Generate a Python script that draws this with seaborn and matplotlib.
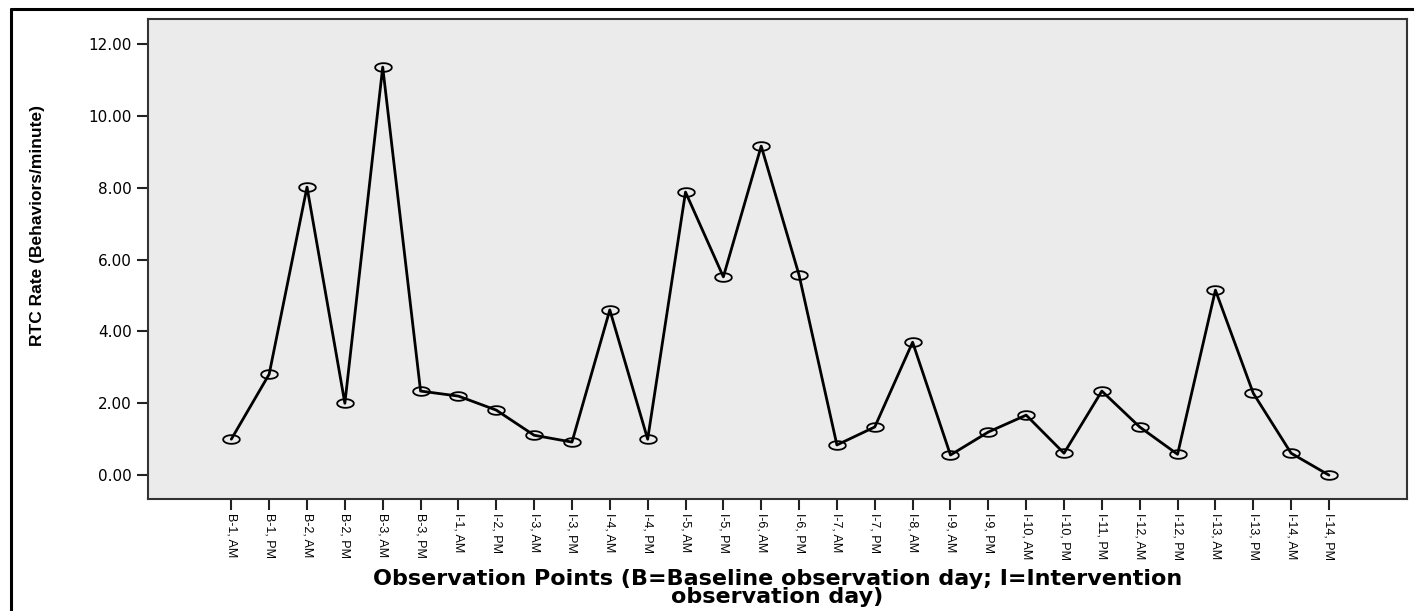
import matplotlib
matplotlib.use("Agg")
import matplotlib.pyplot as plt
import numpy as np
import pandas as pd
import seaborn as sns
from matplotlib.lines import Line2D

# observation points (B = baseline, I = intervention)
points = ["B-1, AM", "B-1, PM", "B-2, AM", "B-2, PM", "B-3, AM", "B-3, PM",
          "I-1, AM", "I-2, PM", "I-3, AM", "I-3, PM", "I-4, AM", "I-4, PM",
          "I-5, AM", "I-5, PM", "I-6, AM", "I-6, PM", "I-7, AM", "I-7, PM",
          "I-8, AM", "I-9, AM", "I-9, PM", "I-10, AM", "I-10, PM", "I-11, PM",
          "I-12, AM", "I-12, PM", "I-13, AM", "I-13, PM", "I-14, AM", "I-14, PM"]
rtc_rate = [1.00, 2.81, 8.02, 2.00, 11.36, 2.34,
            2.20, 1.81, 1.11, 0.92, 4.60, 1.00,
            7.88, 5.52, 9.16, 5.57, 0.84, 1.34,
            3.70, 0.56, 1.20, 1.67, 0.61, 2.34,
            1.34, 0.58, 5.15, 2.28, 0.61, 0.00]
y_ticks = [0, 2, 4, 6, 8, 10, 12]

df = pd.DataFrame({"point": points, "rate": rtc_rate})

sns.set_style("ticks")
plt.rcParams["font.family"] = ["DejaVu Sans"]
plt.rcParams["text.color"] = "black"
plt.rcParams["axes.labelcolor"] = "black"
plt.rcParams["xtick.color"] = "black"
plt.rcParams["ytick.color"] = "black"

fig = plt.figure(figsize=(14.14, 6.11), dpi=100)
ax = fig.add_axes([0.1047, 0.183, 0.8903, 0.786])
ax.set_facecolor("#ebebeb")

# flattened open circle, as in the original SPSS export
t = np.linspace(0, 2 * np.pi, 60)
ellipse = list(zip(np.cos(t), 0.52 * np.sin(t)))

sns.lineplot(data=df, x="point", y="rate", ax=ax, color="black", linewidth=2.0,
             sort=False, marker=ellipse, markersize=12, markerfacecolor="none",
             markeredgecolor="black", markeredgewidth=1.3)

ax.set_xlim(-2.2, 31.06)
ax.set_ylim(-0.67, 12.7)
ax.set_yticks(y_ticks)
ax.set_yticklabels([f"{v:.2f}" for v in y_ticks], fontsize=11)
ax.set_xticks(range(len(points)))
ax.set_xticklabels(points, rotation=270, fontsize=9, family=["Liberation Sans", "DejaVu Sans"])
ax.tick_params(axis="both", direction="out", length=8, width=1.5, color="#222222")
ax.tick_params(axis="x", pad=2)

for side in ["left", "right", "top", "bottom"]:
    ax.spines[side].set_visible(True)
    ax.spines[side].set_linewidth(1.5)
    ax.spines[side].set_color("#333333")

ax.set_ylabel("RTC Rate (Behaviors/minute)", fontsize=12.5, fontweight="bold",
              family=["Liberation Sans", "DejaVu Sans"])
ax.yaxis.set_label_coords(-0.082, 0.57)
ax.set_xlabel("Observation Points (B=Baseline observation day; I=Intervention\nobservation day)",
              fontsize=16, fontweight="bold", linespacing=0.88)
ax.xaxis.set_label_coords(0.5, -0.145)

# outer frame of the exported chart
fig.add_artist(Line2D([11 / 1414, 11 / 1414], [0, 1 - 9 / 611], transform=fig.transFigure,
                      color="black", linewidth=2.2))
fig.add_artist(Line2D([11 / 1414, 1], [1 - 9 / 611, 1 - 9 / 611], transform=fig.transFigure,
                      color="black", linewidth=2.2))

fig.savefig("out.png", dpi=100)
